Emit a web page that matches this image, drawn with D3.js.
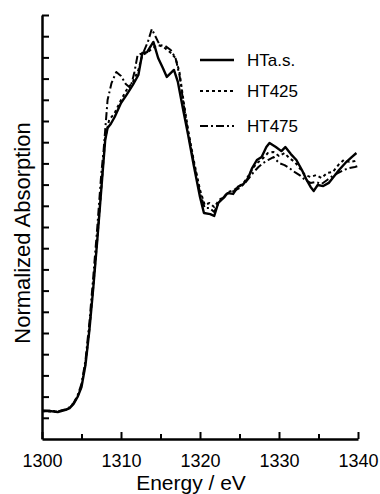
<!DOCTYPE html>
<html>
<head>
<meta charset="utf-8">
<script src="https://cdn.jsdelivr.net/npm/d3@7"></script>
<style>
  body { margin: 0; background: #fff; }
  text { font-family: "Liberation Sans", Arial, sans-serif; fill: #000; }
</style>
</head>
<body>
<script>

// energies (eV) and normalized absorption for each sample
var energyAs = [1300,1301,1302,1303,1303.5,1304,1304.5,1305,1305.5,1306,1306.5,1307,1307.5,1308,1308.3,1308.7,1309.2,1310,1310.7,1311.5,1312.2,1312.7,1313.3,1314.1,1314.7,1315.3,1315.8,1316.7,1317.2,1317.8,1318.5,1319.2,1320,1320.5,1321.3,1321.8,1322.3,1322.8,1323.5,1324.2,1324.8,1325.5,1326.1,1326.6,1327.2,1327.8,1328.4,1328.8,1329.6,1330.3,1330.8,1331.5,1332.2,1332.9,1333.5,1334,1334.4,1334.9,1335.6,1336.3,1336.9,1337.6,1338.4,1339.2,1339.8];
var absAs    = [0.132,0.132,0.127,0.137,0.146,0.165,0.198,0.245,0.349,0.514,0.717,0.939,1.175,1.410,1.467,1.486,1.519,1.585,1.623,1.670,1.717,1.821,1.825,1.873,1.797,1.750,1.708,1.741,1.684,1.566,1.434,1.292,1.142,1.066,1.061,1.052,1.113,1.132,1.160,1.156,1.189,1.203,1.231,1.278,1.316,1.330,1.377,1.396,1.377,1.358,1.377,1.344,1.316,1.269,1.222,1.189,1.170,1.198,1.193,1.208,1.236,1.269,1.302,1.330,1.349];

var energy425 = [1300,1301,1302,1303,1303.5,1304,1304.5,1305,1305.5,1306,1306.5,1307,1307.5,1308,1308.5,1309.2,1310,1310.7,1311.5,1312.2,1312.7,1313.4,1314,1314.7,1315.4,1316.2,1316.9,1317.4,1317.9,1318.5,1319.2,1320,1320.6,1321.2,1321.8,1322.4,1323,1323.6,1324.3,1325,1325.6,1326.2,1326.8,1327.4,1328,1328.6,1329.3,1330,1330.7,1331.3,1332,1332.6,1333.3,1334,1334.7,1335.4,1336.1,1336.8,1337.5,1338.2,1338.9,1339.6,1340];
var abs425    = [0.132,0.130,0.130,0.138,0.148,0.168,0.200,0.250,0.355,0.520,0.725,0.945,1.180,1.420,1.505,1.538,1.599,1.646,1.684,1.741,1.811,1.825,1.844,1.858,1.849,1.825,1.797,1.731,1.599,1.458,1.316,1.175,1.104,1.113,1.094,1.127,1.142,1.165,1.175,1.193,1.212,1.245,1.283,1.307,1.325,1.349,1.354,1.335,1.349,1.325,1.307,1.278,1.245,1.236,1.245,1.231,1.255,1.259,1.292,1.316,1.307,1.311,1.316];

var energy475 = [1300,1301,1302,1303,1303.5,1304,1304.5,1305,1305.5,1306,1306.5,1307,1307.5,1307.8,1308.3,1308.8,1309.4,1310,1310.6,1311.2,1311.7,1312.1,1312.8,1313.4,1313.9,1314.4,1314.9,1315.6,1316.3,1316.9,1317.4,1317.9,1318.5,1319.2,1320,1320.6,1321.2,1321.8,1322.4,1323,1323.6,1324.3,1325,1325.6,1326.2,1326.8,1327.4,1328,1328.6,1329.3,1330,1330.7,1331.3,1332,1332.6,1333.3,1334,1334.7,1335.4,1336.1,1336.8,1337.5,1338.2,1338.9,1339.6,1340];
var abs475    = [0.135,0.133,0.130,0.140,0.150,0.170,0.205,0.260,0.370,0.550,0.770,1.000,1.250,1.363,1.599,1.679,1.731,1.712,1.675,1.656,1.731,1.811,1.821,1.873,1.934,1.896,1.858,1.854,1.835,1.797,1.717,1.585,1.443,1.307,1.160,1.090,1.090,1.071,1.118,1.137,1.160,1.170,1.184,1.203,1.231,1.259,1.283,1.302,1.316,1.330,1.302,1.292,1.278,1.259,1.245,1.222,1.208,1.212,1.203,1.222,1.241,1.255,1.269,1.278,1.283,1.288];

var seriesNames = ["HTa.s.", "HT425", "HT475"];
var xMajorTicks = [1300, 1310, 1320, 1330, 1340];
var xMinorTicks = [1305, 1315, 1325, 1335];

var dashes = [null, "3,3", "8,3,2,3"];
var widths = [2.4, 2, 2];

// plot box (window.top is read-only, so use other names)
var mLeft = 42, mTop = 15, w = 316, h = 424;

var svg = d3.select("body").append("svg")
            .attr("width", 380)
            .attr("height", 494);

var x = d3.scaleLinear().domain([1300, 1340]).range([mLeft, mLeft + w]);
var y = d3.scaleLinear().domain([0, 2]).range([mTop + h, mTop]);

// y axis: ticks inside, no labels
svg.append("g")
    .attr("transform", "translate(" + mLeft + ",0)")
    .call(d3.axisRight(y).tickValues(d3.range(1, 21).map(function(k){return k / 10}))
            .tickSizeInner(7).tickSizeOuter(0).tickFormat(""))
    .call(function(g){
        g.select(".domain").attr("stroke-width", 2.5);
        g.selectAll(".tick line").attr("stroke-width", 2);
    });

// x axis minor ticks
svg.append("g")
    .attr("transform", "translate(0," + (mTop + h) + ")")
    .call(d3.axisBottom(x).tickValues(xMinorTicks).tickSizeInner(-5).tickSizeOuter(0).tickFormat(""))
    .call(function(g){
        g.select(".domain").remove();
        g.selectAll(".tick line").attr("stroke-width", 2);
    });

// x axis major ticks and labels
svg.append("g")
    .attr("transform", "translate(0," + (mTop + h) + ")")
    .call(d3.axisBottom(x).tickValues(xMajorTicks).tickSizeInner(-7).tickSizeOuter(0)
            .tickPadding(15).tickFormat(d3.format("d")))
    .call(function(g){
        g.select(".domain").attr("stroke-width", 2.5);
        g.selectAll(".tick line").attr("stroke-width", 2);
        g.selectAll("text").attr("font-size", 18)
            .attr("font-family", "'Liberation Sans', Arial, sans-serif");
    });

var line = d3.line()
    .x(function(d){return x(d[0])})
    .y(function(d){return y(d[1])});

var series = [d3.zip(energyAs, absAs), d3.zip(energy425, abs425), d3.zip(energy475, abs475)];

svg.selectAll("path.curve")
    .data(series)
    .enter().append("path")
    .attr("class", "curve")
    .attr("d", line)
    .attr("fill", "none")
    .attr("stroke", "#000")
    .attr("stroke-width", function(d, i){return widths[i]})
    .attr("stroke-dasharray", function(d, i){return dashes[i]})
    .attr("stroke-linejoin", "round");

// legend
var legendY = [60, 91, 126];
var legend = svg.selectAll("g.legend")
    .data(seriesNames)
    .enter().append("g")
    .attr("class", "legend")
    .attr("transform", function(d, i){return "translate(200," + legendY[i] + ")"});

legend.append("line")
    .attr("x1", 0).attr("x2", 34)
    .attr("stroke", "#000")
    .attr("stroke-width", function(d, i){return widths[i]})
    .attr("stroke-dasharray", function(d, i){return dashes[i]});

legend.append("text")
    .attr("x", 47)
    .attr("dy", "0.36em")
    .attr("font-size", 17)
    .text(function(d){return d});

// axis titles
svg.append("text")
    .attr("x", 191)
    .attr("y", 490)
    .attr("text-anchor", "middle")
    .attr("font-size", 21)
    .text("Energy / eV");

svg.append("text")
    .attr("transform", "translate(30,233) rotate(-90)")
    .attr("text-anchor", "middle")
    .attr("font-size", 22)
    .text("Normalized Absorption");

</script>
</body>
</html>
